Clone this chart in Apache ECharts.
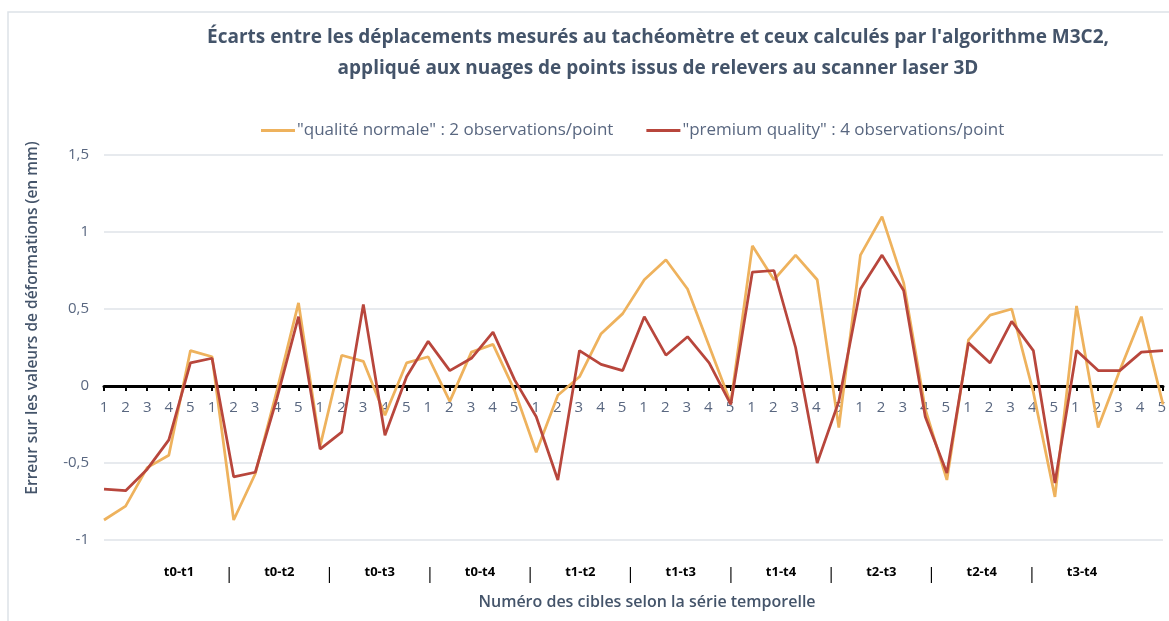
<!DOCTYPE html>
<html>
<head>
<meta charset="utf-8">
<script src="https://cdn.jsdelivr.net/npm/echarts@6/dist/echarts.min.js"></script>
<style>
  html, body { margin: 0; padding: 0; background: #fff; }
  #chart { width: 1169px; height: 621px; }
</style>
</head>
<body>
<div id="chart"></div>
<script>
// numéros des cibles (1..5) pour chaque série temporelle
const cibles = [
  '1','2','3','4','5', '1','2','3','4','5', '1','2','3','4','5', '1','2','3','4','5', '1','2','3','4','5',
  '1','2','3','4','5', '1','2','3','4','5', '1','2','3','4','5', '1','2','3','4','5', '1','2','3','4','5'
];
const groupes = ['t0-t1', 't0-t2', 't0-t3', 't0-t4', 't1-t2', 't1-t3', 't1-t4', 't2-t3', 't2-t4', 't3-t4'];

const nomNormale = '"qualité normale" : 2 observations/point';
const nomPremium = '"premium quality" : 4 observations/point';

// écarts en mm
const qualiteNormale = [
  -0.87, -0.78, -0.53, -0.45, 0.23, 0.19, -0.87, -0.57, -0.03, 0.54,
  -0.39, 0.20, 0.16, -0.19, 0.15, 0.19, -0.10, 0.22, 0.27, -0.03,
  -0.43, -0.06, 0.06, 0.34, 0.47, 0.69, 0.82, 0.63, 0.26, -0.11,
  0.91, 0.69, 0.85, 0.69, -0.27, 0.85, 1.10, 0.67, -0.15, -0.61,
  0.30, 0.46, 0.50, -0.04, -0.72, 0.52, -0.27, 0.10, 0.45, -0.12
];
const premiumQuality = [
  -0.67, -0.68, -0.54, -0.35, 0.15, 0.18, -0.59, -0.56, -0.08, 0.45,
  -0.41, -0.30, 0.53, -0.32, 0.06, 0.29, 0.10, 0.18, 0.35, 0.04,
  -0.20, -0.61, 0.23, 0.14, 0.10, 0.45, 0.20, 0.32, 0.15, -0.12,
  0.74, 0.75, 0.25, -0.50, -0.10, 0.63, 0.85, 0.62, -0.20, -0.565,
  0.28, 0.15, 0.42, 0.23, -0.63, 0.23, 0.10, 0.10, 0.22, 0.23
];

// étiquettes de groupes séparées par des "|"
const groupAxis = [];
groupes.forEach(function (g, i) {
  if (i > 0) groupAxis.push('|');
  groupAxis.push(g);
});

const texte = '#596780';
const titre = '#44546a';

let chart = echarts.init(document.getElementById('chart'));
chart.setOption({
  animation: false,
  textStyle: { fontFamily: 'Open Sans' },
  title: {
    text: "Écarts entre les déplacements mesurés au tachéomètre et ceux calculés par l'algorithme M3C2,\nappliqué aux nuages de points issus de relevers au scanner laser 3D",
    left: 653,
    textAlign: 'center',
    top: 17,
    textStyle: { fontSize: 19, fontWeight: 'bold', color: titre, lineHeight: 31, fontFamily: 'Open Sans' }
  },
  legend: {
    left: 256,
    top: 117,
    icon: 'rect',
    itemWidth: 34,
    itemHeight: 3,
    itemGap: 33,
    textStyle: { fontSize: 17, color: texte, padding: [0, 0, 0, -3] },
    data: [nomNormale, nomPremium]
  },
  grid: [
    { left: 104, right: 6, top: 155, bottom: 81 },
    { left: 179, right: 87, top: 556, height: 1 },
    // bande du haut jusqu'au zéro : sert à poser les numéros sous l'axe 0
    { left: 104, right: 6, top: 155, bottom: 235 }
  ],
  xAxis: [
    {
      type: 'category',
      data: cibles,
      boundaryGap: false,
      axisLine: { onZero: true, lineStyle: { color: '#000', width: 3 } },
      axisTick: { show: true, length: 5, lineStyle: { color: '#000', width: 2 } },
      axisLabel: { show: false },
      splitLine: { show: false }
    },
    {
      type: 'category',
      gridIndex: 1,
      data: groupAxis,
      boundaryGap: false,
      axisLine: { show: false },
      axisTick: { show: false },
      axisLabel: {
        interval: 0, margin: 9, fontSize: 13, fontWeight: 'bold', color: '#000',
        formatter: function (v) { return v === '|' ? '{sep|' + v + '}' : v; },
        rich: { sep: { fontSize: 17, fontWeight: 'normal', color: '#000' } }
      }
    },
    {
      type: 'category',
      gridIndex: 2,
      data: cibles,
      boundaryGap: false,
      axisLine: { show: false },
      axisTick: { show: false },
      axisLabel: { interval: 0, margin: 14, fontSize: 15, color: texte }
    }
  ],
  yAxis: [
    {
      type: 'value',
      min: -1,
      max: 1.5,
      interval: 0.5,
      axisLine: { show: false },
      axisTick: { show: false },
      axisLabel: {
        margin: 15, fontSize: 15, color: texte,
        formatter: function (v) { return String(v).replace('.', ','); }
      },
      splitLine: { lineStyle: { color: '#dfe3e9', width: 1.5 } }
    },
    { type: 'value', gridIndex: 1, show: false },
    { type: 'value', gridIndex: 2, show: false }
  ],
  graphic: [
    {
      type: 'rect',
      shape: { x: 8, y: 12, width: 1300, height: 700 },
      style: { fill: 'none', stroke: '#dde2e8', lineWidth: 1.5 },
      silent: true
    },
    {
      type: 'text',
      x: 33, y: 318,
      rotation: Math.PI / 2,
      style: {
        text: 'Erreur sur les valeurs de déformations (en mm)',
        align: 'center', verticalAlign: 'middle',
        font: '600 15.5px "Open Sans"', fill: titre
      }
    },
    {
      type: 'text',
      x: 647, y: 602,
      style: {
        text: 'Numéro des cibles selon la série temporelle',
        align: 'center', verticalAlign: 'middle',
        font: '600 16px "Open Sans"', fill: titre
      }
    }
  ],
  color: ['#eeb25d', '#b8463c'],
  series: [
    {
      name: nomNormale,
      type: 'line',
      data: qualiteNormale,
      symbol: 'none',
      lineStyle: { width: 2.75 }
    },
    {
      name: nomPremium,
      type: 'line',
      data: premiumQuality,
      symbol: 'none',
      lineStyle: { width: 2.75 }
    }
  ]
});
</script>
</body>
</html>
